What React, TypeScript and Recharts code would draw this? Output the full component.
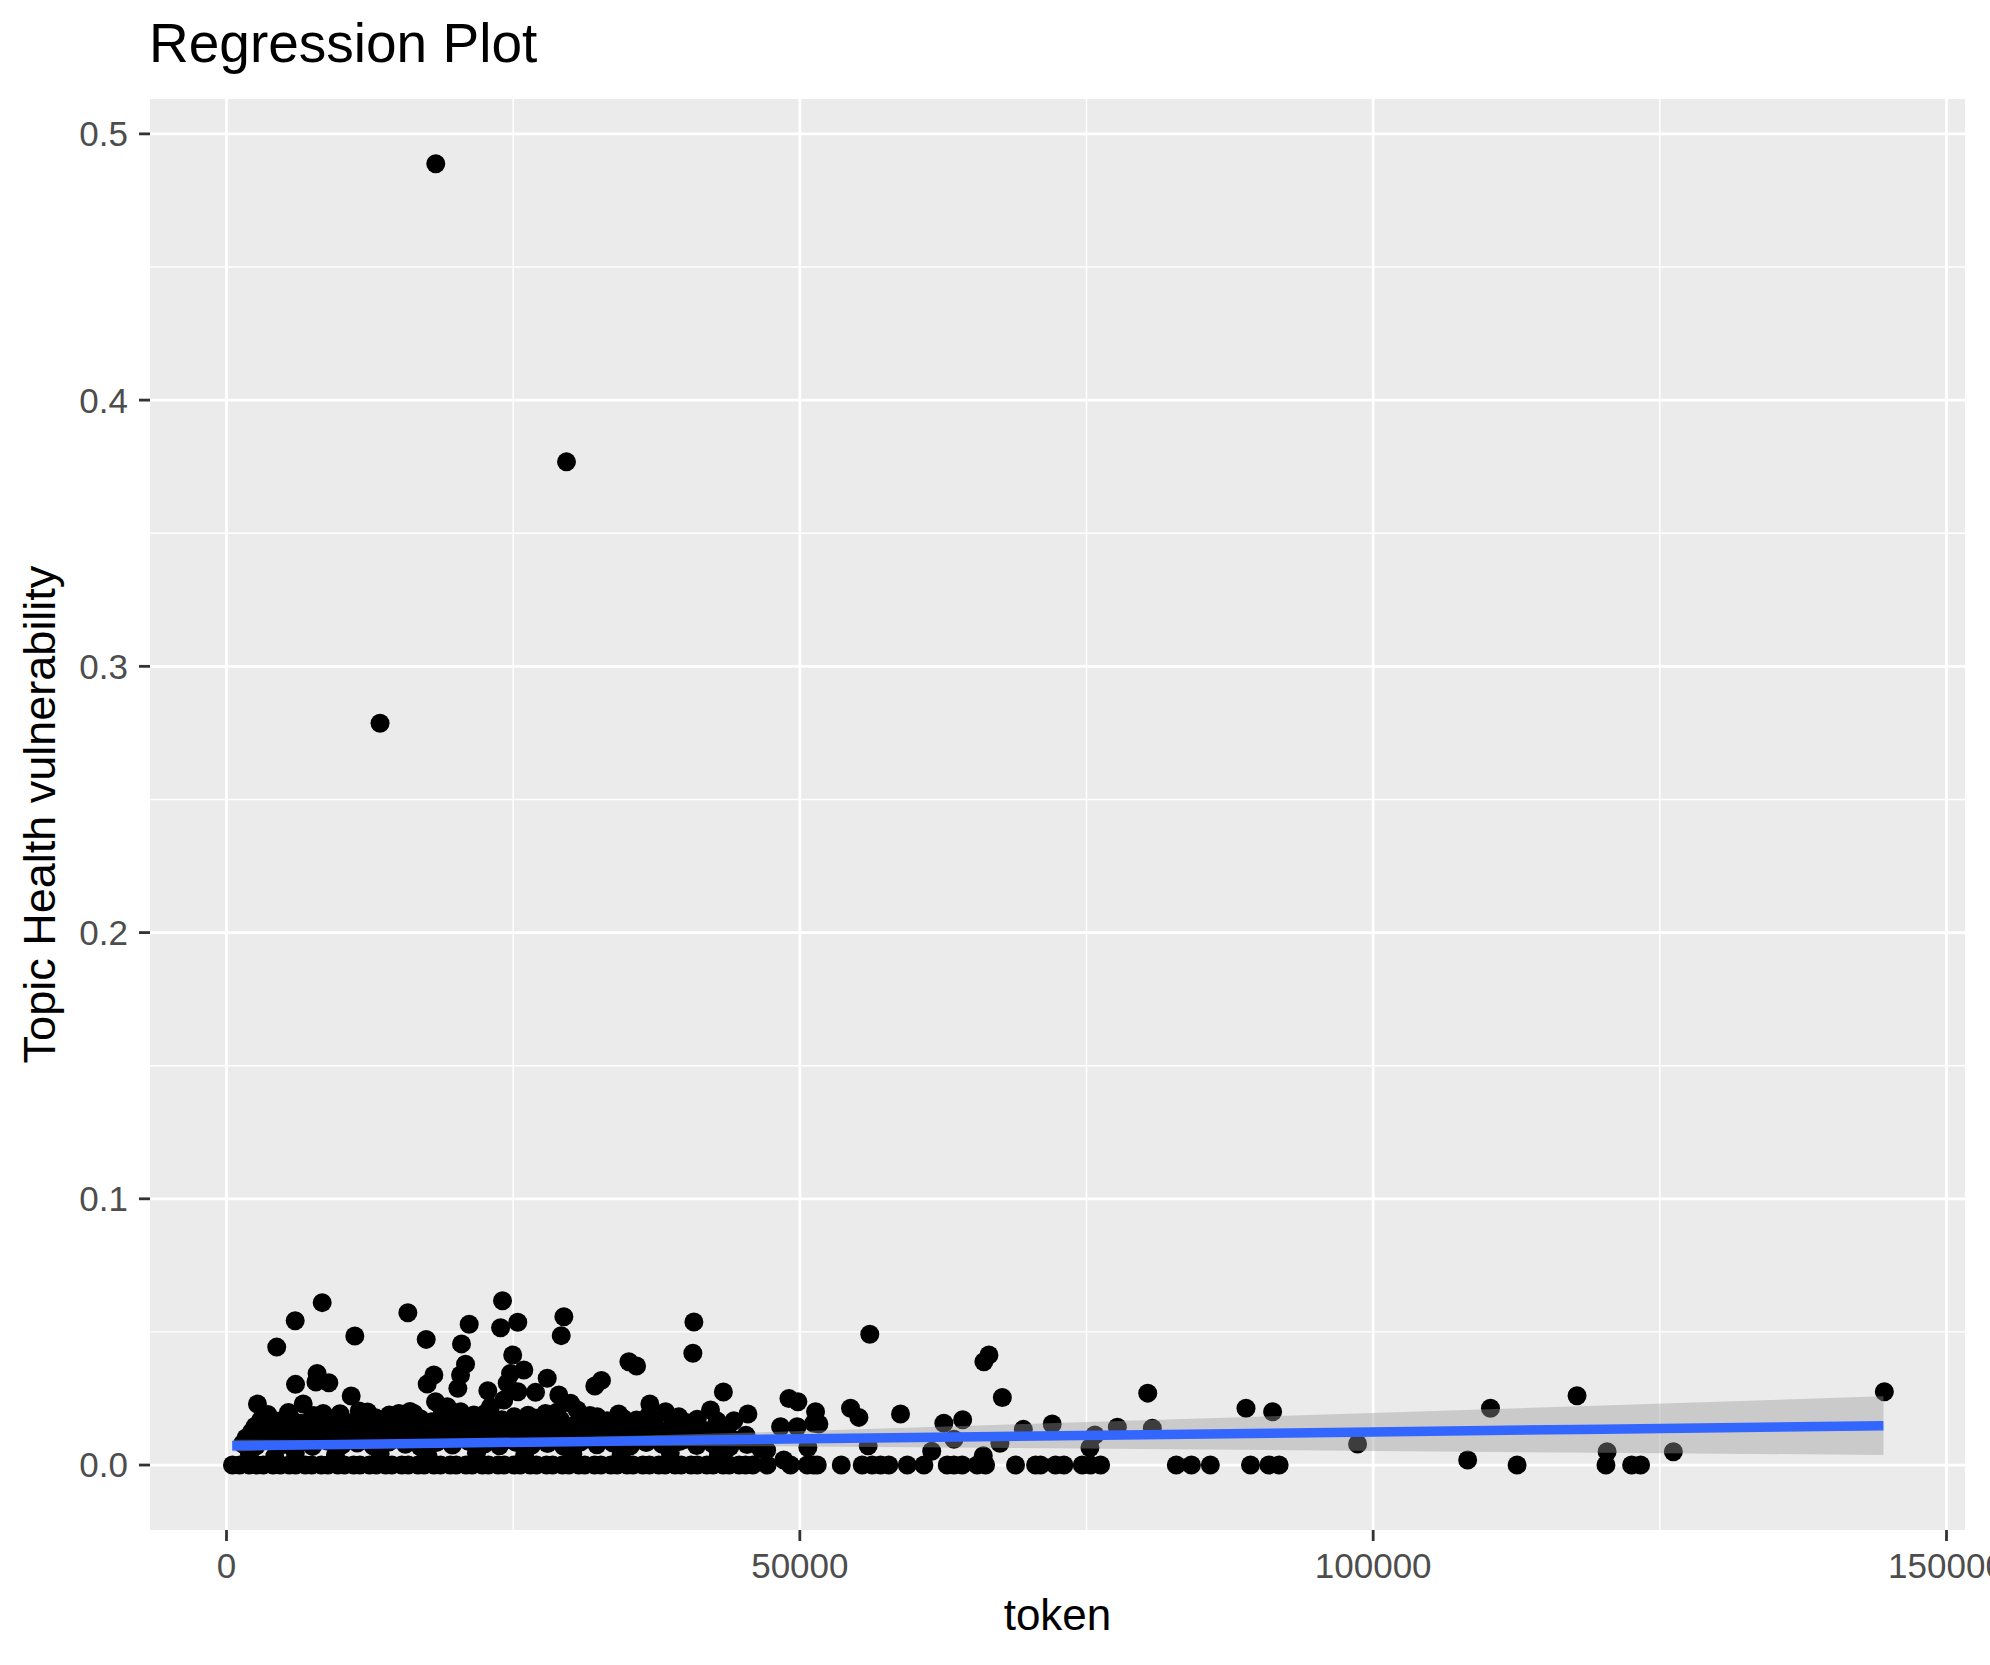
import React from 'react'
import {
  ComposedChart,
  Scatter,
  Line,
  Area,
  XAxis,
  YAxis,
  CartesianGrid,
  ReferenceLine,
  Label,
} from 'recharts'

const FONT = '"Liberation Sans", Arial, Helvetica, sans-serif'

// documents sitting exactly at 0
const zeroTokens = [
  520, 1150, 1980, 2640, 3210, 4060, 4690, 5480, 6030, 6870, 7440, 8260, 8850,
  9710, 10280, 11090, 11640, 12470, 13060, 13880, 14420, 15290, 15850, 16700,
  17240, 18090, 18660, 19510, 20030, 20890, 21420, 22310, 22840, 23690, 24210,
  25080, 25620, 26490, 27030, 27910, 28440, 29300, 29850, 30720, 31240, 32100,
  32650, 33520, 34060, 34930, 35450, 36310, 36880, 37700, 38240, 39120, 39650,
  40510, 41060, 41890, 42430, 43310, 43840, 44700, 45260, 45900, 47150, 49190,
  50650, 51200, 51520, 53610, 55440, 56310, 57040, 57760, 59370, 60820, 62850,
  63440, 64160, 65470, 66200, 68810, 70560, 70990, 72300, 73030, 74630, 75350,
  76230, 82830, 84150, 85800, 89300, 90900, 91800, 112550, 120300, 122540,
  123320,
]

// small values, the dense strip just above zero
const lowTokens = [
  2000, 4200, 6000, 9500, 13400, 17600, 21800, 26000, 30200, 34400, 38700,
  42900, 1400, 2600, 3900, 5000, 6300, 7500, 8800, 10100, 11400, 12800, 14200,
  15600, 16900, 18300, 19700, 21100, 22500, 23800, 25200, 26600, 28000, 29400,
  30900, 32300, 33700, 35200, 36600, 38000, 39500, 41000, 42400, 43900, 45400,
  46600, 1805, 63440, 67450, 98640, 55960, 50700, 75300, 61500, 66000, 47100,
  120400, 126180, 108240, 48600, 1700, 3300, 4800, 6100, 7700, 9000, 10600,
  11900, 13300, 14800, 16200, 17700, 19100, 20500, 21900, 23200, 24800, 26100,
  27400, 28700, 30300, 31600, 33000, 34400, 35900, 37200, 38700, 40000, 41500,
  43000, 44300,
]
const lowValues = [
  0.004, 0.0032, 0.0045, 0.0038, 0.0042, 0.003, 0.0044, 0.0036, 0.0041, 0.0033,
  0.0045, 0.0037, 0.008, 0.0072, 0.0088, 0.0077, 0.0084, 0.007, 0.009, 0.0076,
  0.0083, 0.0071, 0.0087, 0.0078, 0.0069, 0.0085, 0.0075, 0.0089, 0.0079,
  0.0072, 0.0086, 0.0074, 0.0081, 0.007, 0.0087, 0.0076, 0.0083, 0.0071,
  0.0085, 0.0078, 0.0088, 0.0073, 0.008, 0.0069, 0.0077, 0.006, 0.0084, 0.0097,
  0.0082, 0.0079, 0.0072, 0.0066, 0.0065, 0.0052, 0.0035, 0.0056, 0.005, 0.005,
  0.0019, 0.0019, 0.0102, 0.0097, 0.0105, 0.0099, 0.0108, 0.0096, 0.0103,
  0.0098, 0.0106, 0.01, 0.0095, 0.0104, 0.0099, 0.0107, 0.0097, 0.0102, 0.0096,
  0.0105, 0.0099, 0.0103, 0.0097, 0.0106, 0.01, 0.0095, 0.0104, 0.0098, 0.0102,
  0.0096, 0.0105, 0.0099, 0.0094,
]

// values between about 0.011 and 0.02
const midTokens = [
  2200, 3400, 5200, 6800, 8200, 9800, 11000, 12600, 13600, 15200, 16700, 18000,
  19000, 20800, 22000, 23500, 24600, 26300, 27600, 29000, 30700, 31900, 33600,
  34900, 36700, 37800, 39200, 40600, 42100, 43700, 45300, 3000, 4600, 5600,
  7300, 9200, 10400, 12000, 13000, 14600, 16900, 17900, 19300, 20900, 22100,
  23300, 24000, 26000, 27000, 28200, 31000, 33900, 34600, 37300, 40100, 42800,
  8430, 15030, 16340, 27820, 45470, 58780, 21570, 25100, 39450, 32330, 55150,
  41050, 35760, 29130, 64200, 44245, 33200, 3985, 9650, 15760, 6455, 31160,
  62560, 51220, 4970, 51660, 72010, 2730, 19800, 22415, 48320, 49770, 80740,
  77690, 14015, 69490, 29710, 38540, 11830, 75730, 2500, 4000, 5900, 7000,
  8600, 10000, 11500, 12300, 14000, 15500, 17300, 18600, 20200, 21700, 23000,
  24300, 25500, 26800, 28600, 30100, 32600, 35000, 36300, 38800, 41200, 43400,
  3600, 5400, 7600, 9900, 12300, 14200, 16000, 18800, 22600, 26300, 28800,
  31700, 34200, 36800,
]
const midValues = [
  0.0125, 0.0118, 0.013, 0.0122, 0.0135, 0.012, 0.0128, 0.0117, 0.014, 0.0124,
  0.0132, 0.0119, 0.0136, 0.0126, 0.0121, 0.0133, 0.0118, 0.013, 0.0124,
  0.0113, 0.0127, 0.0119, 0.0131, 0.0122, 0.0135, 0.0118, 0.0126, 0.012, 0.013,
  0.0117, 0.0112, 0.017, 0.0165, 0.0176, 0.0168, 0.0172, 0.0162, 0.017, 0.0178,
  0.0166, 0.0174, 0.0163, 0.0175, 0.0168, 0.0177, 0.0163, 0.017, 0.0167,
  0.0176, 0.016, 0.0172, 0.0163, 0.0175, 0.0168, 0.016, 0.0165, 0.0194, 0.0194,
  0.0194, 0.0194, 0.0192, 0.0192, 0.0188, 0.0181, 0.0181, 0.0181, 0.0179,
  0.0172, 0.0169, 0.0169, 0.017, 0.0166, 0.0166, 0.0157, 0.0159, 0.0157,
  0.0157, 0.0157, 0.0157, 0.0157, 0.015, 0.0154, 0.0154, 0.0144, 0.0144,
  0.0144, 0.0144, 0.0144, 0.0138, 0.0142, 0.0131, 0.0134, 0.0138, 0.0131,
  0.0121, 0.0113, 0.0146, 0.0141, 0.0149, 0.0143, 0.0148, 0.014, 0.0147,
  0.0142, 0.015, 0.0144, 0.0139, 0.0148, 0.0143, 0.015, 0.0141, 0.0147, 0.014,
  0.0149, 0.0142, 0.0146, 0.014, 0.0148, 0.0143, 0.0146, 0.0141, 0.0145, 0.019,
  0.0197, 0.0186, 0.0193, 0.0199, 0.0188, 0.0201, 0.019, 0.0195, 0.0187,
  0.0198, 0.0186, 0.0192, 0.0185,
]

// values above 0.02, including the three outliers
const highTokens = [
  18250, 29650, 13390, 8345, 5990, 4380, 11190, 15815, 17415, 21165, 20495,
  24070, 23900, 25400, 24960, 29420, 29190, 40760, 40670, 56100, 66050, 66490,
  20845, 20410, 18085, 7900, 7800, 8925, 6020, 24770, 25930, 27970, 35090,
  35760, 32120, 32700, 17500, 24480, 20175, 22790, 10875, 25410, 26950, 28980,
  43330, 67660, 80340, 88910, 91230, 110230, 117780, 144580, 18230, 24185,
  30000, 49050, 49830, 6690, 2700, 23025, 19250, 36920, 54420, 11570, 20410,
  30590, 42210, 38290, 51370,
]
const highValues = [
  0.4888, 0.3768, 0.2786, 0.061, 0.0542, 0.0443, 0.0485, 0.0572, 0.0472,
  0.0529, 0.0455, 0.0617, 0.0516, 0.0536, 0.0413, 0.0557, 0.0486, 0.0537,
  0.042, 0.0491, 0.0388, 0.0413, 0.0379, 0.0338, 0.0338, 0.0344, 0.0312,
  0.0309, 0.0303, 0.0344, 0.0357, 0.0326, 0.0388, 0.0372, 0.0297, 0.0318,
  0.0304, 0.0307, 0.0288, 0.0279, 0.0259, 0.0275, 0.0273, 0.0263, 0.0274,
  0.0254, 0.027, 0.0213, 0.02, 0.0213, 0.026, 0.0275, 0.0238, 0.0244, 0.0232,
  0.025, 0.0238, 0.0229, 0.0229, 0.0219, 0.0219, 0.0229, 0.0213, 0.0203, 0.02,
  0.0207, 0.0207, 0.02, 0.02,
]

// lm fit and its 95% band
const bandTokens = [500, 10000, 20000, 30000, 45000, 60000, 80000, 100000, 120000, 144500]
const fitValues = [0.00725, 0.00775, 0.00827, 0.00879, 0.00957, 0.01035, 0.0114, 0.01244, 0.01348, 0.01476]
const bandLow = [0.0051, 0.0063, 0.007, 0.0073, 0.0071, 0.0067, 0.006, 0.0053, 0.0046, 0.0038]
const bandHigh = [0.0095, 0.0093, 0.0096, 0.0103, 0.0121, 0.0141, 0.0168, 0.0195, 0.0224, 0.0258]

const xTicks = [0, 50000, 100000, 150000]
const xMinor = [25000, 75000, 125000]
const yTicks = [0, 0.1, 0.2, 0.3, 0.4, 0.5]
const yMinor = [0.05, 0.15, 0.25, 0.35, 0.45]

const points = [
  ...zeroTokens.map((t) => ({ token: t, value: 0 })),
  ...lowTokens.map((t, i) => ({ token: t, value: lowValues[i] })),
  ...midTokens.map((t, i) => ({ token: t, value: midValues[i] })),
  ...highTokens.map((t, i) => ({ token: t, value: highValues[i] })),
]

const bandData = bandTokens.map((t, i) => ({
  token: t,
  fit: fitValues[i],
  band: [bandLow[i], bandHigh[i]],
}))

const Dot = (props: any) => {
  if (props.cx == null || props.cy == null) return null
  return <circle cx={props.cx} cy={props.cy} r={9.5} fill="#000000" />
}

export default function App() {
  return (
    <div
      style={{
        position: 'absolute',
        left: 0,
        top: 0,
        width: 1990,
        height: 1665,
        background: '#ffffff',
        fontFamily: FONT,
      }}
    >
      <div
        style={{
          position: 'absolute',
          left: 149,
          top: 16,
          fontSize: 55,
          lineHeight: 1,
          color: '#000000',
          whiteSpace: 'nowrap',
        }}
      >
        Regression Plot
      </div>
      <ComposedChart
        width={1990}
        height={1665}
        data={bandData}
        margin={{ top: 99, right: 25, bottom: 0, left: 0 }}
      >
        <CartesianGrid fill="#EBEBEB" stroke="#EBEBEB" horizontal={false} vertical={false} />
        {xMinor.map((v) => (
          <ReferenceLine key={`xm${v}`} x={v} stroke="#FFFFFF" strokeWidth={1.4} zIndex={-50} />
        ))}
        {yMinor.map((v) => (
          <ReferenceLine key={`ym${v}`} y={v} stroke="#FFFFFF" strokeWidth={1.4} zIndex={-50} />
        ))}
        {xTicks.map((v) => (
          <ReferenceLine key={`xM${v}`} x={v} stroke="#FFFFFF" strokeWidth={2.8} zIndex={-40} />
        ))}
        {yTicks.map((v) => (
          <ReferenceLine key={`yM${v}`} y={v} stroke="#FFFFFF" strokeWidth={2.8} zIndex={-40} />
        ))}
        <XAxis
          type="number"
          dataKey="token"
          domain={[-6672, 151613]}
          allowDataOverflow
          ticks={xTicks}
          interval={0}
          height={135}
          axisLine={false}
          tickSize={11}
          tickMargin={12}
          tickLine={{ stroke: '#333333', strokeWidth: 2.8 }}
          tick={{ fill: '#4D4D4D', fontSize: 35, fontFamily: FONT }}
          tickFormatter={(v: number) => String(v)}
        >
          <Label
            content={(p: any) => {
              const vb = p.viewBox || { x: 150, y: 1530, width: 1815 }
              return (
                <text
                  x={vb.x + vb.width / 2}
                  y={vb.y + 100}
                  textAnchor="middle"
                  fontSize={44}
                  fontFamily={FONT}
                  fill="#000000"
                >
                  token
                </text>
              )
            }}
          />
        </XAxis>
        <YAxis
          type="number"
          dataKey="value"
          domain={[-0.0244, 0.5131]}
          allowDataOverflow
          ticks={yTicks}
          interval={0}
          width={150}
          axisLine={false}
          tickSize={11}
          tickMargin={11}
          tickLine={{ stroke: '#333333', strokeWidth: 2.8 }}
          tick={{ fill: '#4D4D4D', fontSize: 35, fontFamily: FONT }}
          tickFormatter={(v: number) => v.toFixed(1)}
        >
          <Label
            content={(p: any) => {
              const vb = p.viewBox || { y: 99, height: 1431 }
              const cx = 55
              const cy = vb.y + vb.height / 2
              return (
                <text
                  x={cx}
                  y={cy}
                  transform={`rotate(-90 ${cx} ${cy})`}
                  textAnchor="middle"
                  fontSize={45}
                  fontFamily={FONT}
                  fill="#000000"
                >
                  Topic Health vulnerability
                </text>
              )
            }}
          />
        </YAxis>
        <Scatter data={points} shape={Dot} isAnimationActive={false} zIndex={600} />
        <Area
          type="linear"
          dataKey="band"
          fill="#999999"
          fillOpacity={0.4}
          stroke="none"
          isAnimationActive={false}
          zIndex={650}
        />
        <Line
          type="linear"
          dataKey="fit"
          stroke="#3366FF"
          strokeWidth={9.5}
          dot={false}
          isAnimationActive={false}
          zIndex={700}
        />
      </ComposedChart>
    </div>
  )
}
